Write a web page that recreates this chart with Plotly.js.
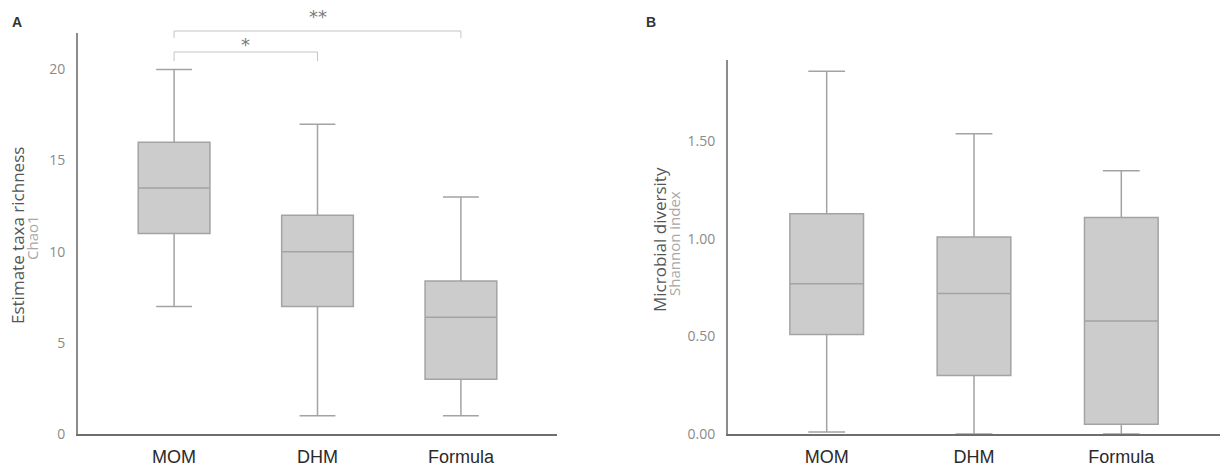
<!DOCTYPE html>
<html>
<head>
<meta charset="utf-8">
<script src="https://cdn.plot.ly/plotly-3.0.1.min.js"></script>
<style>html,body{margin:0;padding:0;background:#fff;}#chart{width:1220px;height:466px;}</style>
</head>
<body>
<div id="chart"></div>
<script>
// ---- data ----
const groups = ["MOM", "DHM", "Formula"];

// Panel A: Chao1 richness
const chaoMin    = [7, 1, 1];
const chaoQ1     = [11, 7, 3];
const chaoMedian = [13.5, 10, 6.4];
const chaoQ3     = [16, 12, 8.4];
const chaoMax    = [20, 17, 13];

// Panel B: Shannon index
const shanMin    = [0.01, 0, 0];
const shanQ1     = [0.51, 0.30, 0.05];
const shanMedian = [0.77, 0.72, 0.58];
const shanQ3     = [1.13, 1.01, 1.11];
const shanMax    = [1.86, 1.54, 1.35];

const chaoTicks = [0, 5, 10, 15, 20];
const shanTicks = [0, 0.5, 1.0, 1.5];

// significance brackets (category index pairs) for panel A
const sigPairs  = [[0, 2], [0, 1]];
const sigLabels = ["**", "*"];

// ---- styling ----
const W = 1220, H = 466;
const px = v => v / W, py = v => (H - v) / H;
const boxFill = "#cccccc", boxLine = "#a3a3a3";

function boxTrace(xa, ya, lo, q1, med, q3, hi) {
  return {
    type: "box", xaxis: xa, yaxis: ya, x: groups,
    lowerfence: lo, q1: q1, median: med, q3: q3, upperfence: hi,
    fillcolor: boxFill, line: {color: boxLine, width: 1.5},
    width: 0.5, whiskerwidth: 0.5, boxpoints: false, hoverinfo: "skip",
    showlegend: false
  };
}

const data = [
  boxTrace("x", "y", chaoMin, chaoQ1, chaoMedian, chaoQ3, chaoMax),
  boxTrace("x2", "y2", shanMin, shanQ1, shanMedian, shanQ3, shanMax)
];

const yTickFont = {family: "Open Sans, DejaVu Sans, sans-serif", size: 14, color: "#8a8a8a"};
const xTickFont = {family: "Liberation Sans, Arial, sans-serif", size: 18, color: "#2a2a2a"};

const xAxisCommon = {
  type: "category", range: [-0.67, 2.67], showgrid: false, zeroline: false,
  showline: true, linecolor: "#6e6e6e", linewidth: 1.5, ticks: "",
  tickfont: xTickFont, ticklabelstandoff: 6, fixedrange: true
};
const yAxisCommon = {
  showgrid: false, zeroline: false, showline: true, linecolor: "#8c8c8c", linewidth: 2,
  ticks: "", tickfont: yTickFont, ticklabelstandoff: 8, fixedrange: true
};

const shapes = [];
const annotations = [];
const bracketY = [[31, 38], [52, 61]];
const starY = [16, 45];
sigPairs.forEach((p, i) => {
  const top = py(bracketY[i][0]), bot = py(bracketY[i][1]);
  const st = {color: "#c4c4c4", width: 1};
  shapes.push({type: "line", xref: "x", yref: "paper", x0: p[0], x1: p[1], y0: top, y1: top, line: st});
  shapes.push({type: "line", xref: "x", yref: "paper", x0: p[0], x1: p[0], y0: top, y1: bot, line: st});
  shapes.push({type: "line", xref: "x", yref: "paper", x0: p[1], x1: p[1], y0: top, y1: bot, line: st});
  annotations.push({xref: "x", yref: "paper", x: (p[0] + p[1]) / 2, y: py(starY[i]),
    xanchor: "center", yanchor: "middle", text: sigLabels[i], showarrow: false,
    font: {family: "DejaVu Sans, sans-serif", size: 18, color: "#7a7a7a"}});
});

const titleFont = {family: "Open Sans, sans-serif", size: 17, color: "#555555"};
const subFont = {family: "Open Sans, sans-serif", size: 15, color: "#a8a8a8"};
function note(x, y, text, font, angle) {
  return {xref: "paper", yref: "paper", x: px(x), y: py(y), xanchor: "center", yanchor: "middle",
    text: text, textangle: angle || 0, showarrow: false, font: font};
}
const panelFont = {family: "Liberation Sans, Arial, sans-serif", size: 14, color: "#333"};
annotations.push(
  note(17, 236, "Estimate taxa richness", titleFont, -90),
  note(32, 238, "Chao1", subFont, -90),
  note(659, 239, "Microbial diversity", titleFont, -90),
  note(674, 244, "Shannon index", subFont, -90),
  note(17, 22, "<b>A</b>", panelFont),
  note(651, 22, "<b>B</b>", panelFont)
);

const layout = {
  width: W, height: H, margin: {l: 0, r: 0, t: 0, b: 0},
  paper_bgcolor: "#ffffff", plot_bgcolor: "#ffffff", showlegend: false,
  xaxis: Object.assign({}, xAxisCommon, {domain: [px(78), px(557)], anchor: "y"}),
  yaxis: Object.assign({}, yAxisCommon, {domain: [py(434), py(33)], range: [0, 22], tickvals: chaoTicks, anchor: "x"}),
  xaxis2: Object.assign({}, xAxisCommon, {domain: [px(728), 1], anchor: "y2"}),
  yaxis2: Object.assign({}, yAxisCommon, {domain: [py(434), py(60)], range: [0, 1.918], tickvals: shanTicks, tickformat: ".2f", anchor: "x2"}),
  shapes: shapes, annotations: annotations
};

Plotly.newPlot("chart", data, layout, {displayModeBar: false, staticPlot: true});
</script>
</body>
</html>
